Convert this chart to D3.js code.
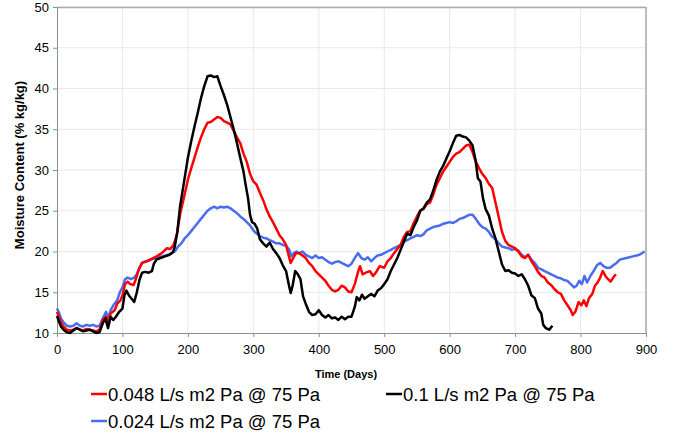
<!DOCTYPE html>
<html>
<head>
<meta charset="utf-8">
<script src="https://cdn.jsdelivr.net/npm/d3@7"></script>
<style>
  body { margin: 0; background: #fff; }
  text { font-family: "Liberation Sans", Arial, sans-serif; }
  .axis path, .axis line { stroke: #8a9090; }
  .axis text { font-size: 13px; fill: #000; }
  .grid line { stroke: #e6eaea; }
</style>
</head>
<body>
<script>
var margin = {top: 7, right: 27, bottom: 103, left: 57},
    w = 673 - margin.left - margin.right,
    h = 436 - margin.top - margin.bottom;

var xTicks = [0, 100, 200, 300, 400, 500, 600, 700, 800, 900];
var yTicks = [10, 15, 20, 25, 30, 35, 40, 45, 50];
var seriesNames = ["0.048 L/s m2 Pa @ 75 Pa", "0.1 L/s m2 Pa @ 75 Pa", "0.024 L/s m2 Pa @ 75 Pa"];
var seriesColors = ["#ff0000", "#000000", "#4a6cf0"];

/* day, moisture content pairs */
var redDays = [0,3,6,10,15,20,25,30,35,40,45,50,55,60,65,70,75,78,82,88,92,97,100,104,108,112,117,120,125,130,140,150,160,168,173,178,183,188,195,200,205,210,215,220,225,230,235,240,245,250,255,260,265,270,275,280,285,290,295,300,305,310,315,320,325,330,335,340,345,350,354,357,361,365,370,375,380,385,390,395,400,405,410,415,420,425,430,435,440,445,450,455,460,463,467,472,478,483,488,493,500,505,510,515,520,525,530,535,540,545,550,555,560,565,570,575,580,585,590,595,600,605,610,615,620,625,630,635,640,645,650,655,660,665,670,675,680,685,690,695,700,705,710,715,720,725,730,735,740,745,750,755,760,765,770,775,780,785,788,792,797,801,805,809,813,818,822,826,830,834,838,842,846,850,854];
var redVals = [12.6,12.0,11.3,10.8,10.4,10.3,10.4,10.6,10.4,10.3,10.5,10.4,10.3,10.2,10.4,11.6,12.0,11.4,12.4,12.8,13.6,14.0,14.6,16.0,16.3,16.0,15.9,16.5,17.8,18.6,18.9,19.3,19.8,20.4,20.3,20.8,22,24.5,27,28.8,30.2,31.5,32.8,34,35,35.8,35.9,36.2,36.5,36.4,36.0,35.8,35.6,34.8,34,33.3,32,31,29.5,28.6,28.2,27.2,26.3,25.2,24.3,23.6,22.8,22.0,21.5,20.8,19.5,18.6,19.2,19.8,19.8,19.5,19.2,18.6,18.2,17.6,17.2,16.8,16.4,15.8,15.3,15.1,15.3,15.8,15.6,15.1,15.0,16.0,17.5,18.2,17.2,17.4,17.6,17.0,17.5,18.2,18.0,18.8,19.2,19.8,20.3,20.8,21.8,22.4,22.5,23.5,24.3,25.0,25.2,25.8,26.0,27.0,28.2,29.0,29.8,30.4,31.0,31.6,32.0,32.2,32.6,33.0,33.1,32.2,31.0,30.2,29.5,29.0,28.3,27.8,26.0,24.2,22.4,21.3,20.8,20.6,20.4,20.0,19.4,19.2,19.6,18.8,18.2,17.5,17.0,16.8,16.2,15.9,15.4,15.0,14.8,14.0,13.4,12.8,12.2,12.6,13.8,13.4,14.0,13.3,14.3,14.8,15.8,16.2,16.8,17.6,17.0,16.6,16.3,16.8,17.2];

var blackDays = [0,3,6,10,15,20,25,30,35,40,45,50,55,60,65,70,74,78,82,86,90,95,100,103,106,110,114,118,122,126,130,135,140,145,148,152,158,165,172,177,180,184,188,192,196,200,205,210,215,220,225,230,235,240,245,250,255,260,265,270,275,280,285,288,292,295,298,302,306,310,315,320,325,330,335,340,345,350,354,357,360,364,368,372,376,380,385,390,395,400,405,410,415,420,425,430,435,440,445,450,455,458,462,466,470,475,480,485,490,495,500,505,510,515,520,525,530,535,540,545,550,555,560,565,570,575,580,585,590,595,600,605,610,615,620,625,630,635,640,643,647,651,655,660,665,670,675,680,685,690,695,700,705,710,715,720,725,730,735,740,743,747,752,757];
var blackVals = [12.1,11.4,10.8,10.4,10.1,10.0,10.3,10.6,10.4,10.2,10.3,10.4,10.2,10.0,10.1,11.2,11.8,10.6,12.0,11.6,12.0,12.6,13.0,14.6,15.2,14.6,14.2,13.8,15.0,16.5,17.4,17.5,17.4,17.6,18.5,19.0,19.2,19.4,19.6,19.9,20.6,22.5,25.5,27.5,29.5,31.5,33.5,35.3,37.0,38.8,40.3,41.5,41.6,41.4,41.5,40.3,39.2,38.0,36.5,35.0,33.3,31.5,29.8,28.3,26.5,24.5,23.6,23.4,22.8,21.5,21.0,20.6,21.1,20.3,19.8,19.2,18.3,17.6,16.0,14.9,15.8,17.6,17.2,16.6,14.5,13.6,12.6,12.2,12.3,12.8,12.2,11.9,12.2,11.8,11.9,11.6,12.0,11.7,12.0,12.0,13.2,14.4,14.0,14.7,14.2,14.5,14.8,14.5,15.2,15.5,16.0,16.6,17.6,18.4,19.2,20.2,21.2,22.2,22.0,23.0,23.8,25.0,25.3,26.0,26.4,27.5,28.8,29.8,30.5,31.4,32.3,33.3,34.2,34.3,34.1,34.0,33.6,33.0,31.0,29.0,28.6,26.5,25.2,24.4,22.8,21.6,20.0,18.4,17.6,17.7,17.4,17.3,17.0,17.2,16.6,15.8,14.6,14.3,13.0,12.4,11.0,10.6,10.4,10.9];

var blueDays = [0,3,6,10,15,20,25,30,35,40,45,50,55,60,65,70,75,78,82,87,92,96,100,104,108,113,118,122,126,130,140,150,160,170,175,180,185,190,195,200,205,210,215,220,225,230,235,240,245,250,255,260,265,270,275,280,285,290,295,300,305,310,315,320,325,330,335,340,345,350,355,358,362,366,370,375,380,385,390,395,400,405,410,415,420,425,430,435,440,445,450,455,460,465,470,475,480,485,490,495,500,505,510,515,520,525,530,535,540,545,550,555,560,565,570,575,580,585,590,595,600,605,610,615,620,625,630,635,640,645,650,655,660,665,670,675,680,685,690,695,700,705,710,715,720,725,730,735,740,745,750,755,760,765,770,775,780,785,790,794,798,802,806,810,815,820,825,830,835,840,845,850,855,860,870,880,890,898];
var blueVals = [13.0,12.5,11.8,11.3,10.9,10.8,10.9,11.2,10.9,10.8,11.0,10.9,11.0,10.8,10.9,11.8,12.6,11.8,12.8,13.5,14.0,15.0,15.6,16.6,16.8,16.6,16.8,17.2,18.0,18.6,18.9,19.2,19.4,19.6,19.8,20.0,20.6,21.0,21.6,22.0,22.5,23.0,23.5,24.0,24.5,25.0,25.3,25.5,25.3,25.5,25.4,25.5,25.3,25.0,24.7,24.3,24.0,23.6,23.2,22.6,22.2,21.9,21.7,21.6,21.4,21.2,21.0,21.0,20.8,20.7,20.2,19.4,19.8,20.0,19.8,20.0,19.6,19.4,19.2,19.5,19.2,19.3,19.0,18.7,18.5,18.7,18.8,18.6,18.4,18.2,18.5,19.2,19.8,19.2,19.0,19.3,18.8,19.2,19.5,19.6,19.8,20.0,20.2,20.4,20.6,20.8,21.2,21.4,21.6,21.8,22.0,21.9,22.1,22.6,22.8,23.0,23.1,23.2,23.4,23.5,23.6,23.5,23.7,24.0,24.1,24.3,24.5,24.5,24.0,23.4,23.0,22.8,22.4,21.8,21.5,21.0,20.6,20.5,20.4,20.2,20.3,20.1,19.6,19.3,19.6,19.0,18.6,18.0,17.8,17.6,17.4,17.2,17.0,16.8,16.7,16.5,16.4,16.0,15.6,15.8,16.4,16.0,17.0,16.2,17.0,17.6,18.3,18.6,18.2,18.0,18.0,18.3,18.6,19.0,19.2,19.4,19.6,20.0];

var seriesDays = [redDays, blackDays, blueDays];
var seriesVals = [redVals, blackVals, blueVals];

var svg = d3.select("body").append("svg")
    .attr("width", w + margin.left + margin.right)
    .attr("height", h + margin.top + margin.bottom);

var g = svg.append("g")
    .attr("transform", "translate(" + margin.left + "," + margin.top + ")");

/*Scales*/
var xScale = d3.scaleLinear().domain([0, 900]).range([0, w]);
var yScale = d3.scaleLinear().domain([10, 50]).range([h, 0]);

/*Grid*/
g.append("g").attr("class", "grid")
    .selectAll("line").data(xTicks.slice(1)).enter().append("line")
    .attr("x1", function(d) { return xScale(d); })
    .attr("x2", function(d) { return xScale(d); })
    .attr("y1", 0).attr("y2", h);
g.append("g").attr("class", "grid")
    .selectAll("line").data(yTicks.slice(1)).enter().append("line")
    .attr("x1", 0).attr("x2", w)
    .attr("y1", function(d) { return yScale(d); })
    .attr("y2", function(d) { return yScale(d); });

/*Frame top/right*/
g.append("line").attr("x1", 0).attr("x2", w).attr("y1", 0.5).attr("y2", 0.5)
    .attr("stroke", "#a4acac").attr("stroke-width", 1.5);
g.append("line").attr("x1", w).attr("x2", w).attr("y1", 0).attr("y2", h)
    .attr("stroke", "#a4acac").attr("stroke-width", 1.5);

/*Axes*/
var xAxis = d3.axisBottom(xScale).tickValues(xTicks).tickSize(4).tickSizeOuter(0).tickPadding(8);
var yAxis = d3.axisLeft(yScale).tickValues(yTicks).tickSize(4).tickSizeOuter(0).tickPadding(4);

g.append("g").attr("class", "axis")
    .attr("transform", "translate(0," + h + ")")
    .call(xAxis);
g.append("g").attr("class", "axis")
    .call(yAxis);

/*Lines*/
var line = d3.line()
    .x(function(d) { return xScale(d[0]); })
    .y(function(d) { return yScale(d[1]); });

var drawOrder = [2, 0, 1];
drawOrder.forEach(function(i) {
    var pts = seriesDays[i].map(function(d, j) { return [d, seriesVals[i][j]]; });
    g.append("path")
        .datum(pts)
        .attr("fill", "none")
        .attr("stroke", seriesColors[i])
        .attr("stroke-width", 2.5)
        .attr("stroke-linejoin", "round")
        .attr("d", line);
});

/*Titles*/
svg.append("text")
    .attr("x", 346)
    .attr("y", 378)
    .attr("text-anchor", "middle")
    .style("font-size", "11px")
    .style("font-weight", "bold")
    .text("Time (Days)");

svg.append("text")
    .attr("transform", "translate(24,165) rotate(-90)")
    .attr("text-anchor", "middle")
    .style("font-size", "13px")
    .style("font-weight", "bold")
    .text("Moisture Content (% kg/kg)");

/*Legend*/
var legendPos = [[91, 394], [386, 394], [91, 421]];
seriesNames.forEach(function(name, i) {
    var lg = svg.append("g").attr("transform", "translate(" + legendPos[i][0] + "," + legendPos[i][1] + ")");
    lg.append("line").attr("x1", 0).attr("x2", 16).attr("y1", 0).attr("y2", 0)
        .attr("stroke", seriesColors[i]).attr("stroke-width", 2.5);
    lg.append("text").attr("x", 17).attr("y", 6.5)
        .style("font-size", "18.5px")
        .text(name);
});
</script>
</body>
</html>
